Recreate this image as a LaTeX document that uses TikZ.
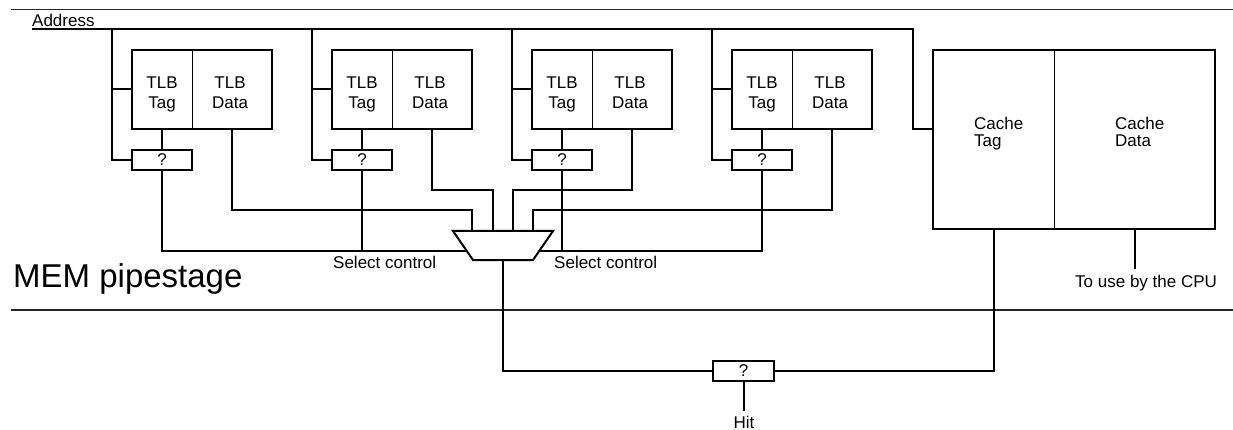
\documentclass[tikz,border=0pt]{standalone}
\usepackage{fontspec}
\setmainfont{Liberation Sans}
\usetikzlibrary{calc}

\tikzset{
  wire/.style={line width=2pt},
  divider/.style={line width=1.2pt},
  stageline/.style={line width=1.2pt,black!85},
  cell/.style={minimum height=79pt,inner sep=0pt},
  cmpbox/.style={draw,line width=2pt,minimum width=60pt,minimum height=20pt,inner sep=0pt},
  lbl/.style={inner sep=0pt},
}

\begin{document}
\begin{tikzpicture}[x=1pt,y=-1pt,font=\fontsize{17}{20}\selectfont]
\useasboundingbox (0,0) rectangle (1233,430);

% pipeline stage borders
\draw[stageline] (11,9.3) -- (1233,9.3);
\draw[stageline] (11,310) -- (1233,310);
\node[lbl,anchor=base west,font=\fontsize{33}{38}\selectfont] (stage) at (13,287) {MEM pipestage};

% address bus
\node[lbl,anchor=base west] (addrlbl) at (32,27) {Address};
\coordinate (addr) at (32,29.5);

% the four TLB ways
\foreach \i in {1,...,4} {
  \pgfmathsetmacro{\dx}{200*(\i-1)}
  \node[cell,minimum width=60pt] (tag\i) at (162+\dx,89.5) {};
  \node[cell,minimum width=80pt] (data\i) at (232+\dx,89.5) {};
  \draw[wire] (tag\i.north west) rectangle (data\i.south east);
  \draw[divider] (tag\i.north east) -- (tag\i.south east);
  \node[lbl,align=center,anchor=north] (tagtxt\i) at (162+\dx,76.7) {TLB\\Tag};
  \node[lbl,align=center,anchor=north] (datatxt\i) at (230+\dx,76.7) {TLB\\Data};
  \node[cmpbox] (cmp\i) at (162+\dx,160) {?};
  \coordinate (tap\i) at (112+\dx,29.5);
  \draw[wire] (tap\i) |- (cmp\i.west);
  \draw[wire] (tap\i |- tag\i.west) -- (tag\i.west);
  \draw[wire] (tag\i.south) -- (cmp\i.north);
}

% cache
\node[cell,minimum width=121pt,minimum height=179pt] (ctag) at (993.5,139.5) {};
\node[cell,minimum width=161pt,minimum height=179pt] (cdata) at (1134.5,139.5) {};
\draw[wire] (ctag.north west) rectangle (cdata.south east);
\draw[divider] (ctag.north east) -- (ctag.south east);
\node[lbl,align=left,anchor=north west,font=\fontsize{17}{16.5}\selectfont] (ctagtxt) at (974,117) {Cache\\Tag};
\node[lbl,align=left,anchor=north west,font=\fontsize{17}{16.5}\selectfont] (cdatatxt) at (1115,117) {Cache\\Data};

\draw[wire] (addr) -- (913,29.5) |- ($(ctag.north west)!0.44!(ctag.south west)$);

% way select mux
\coordinate (mtl) at (453,231);
\coordinate (mtr) at (553,231);
\coordinate (mbr) at (533,260);
\coordinate (mbl) at (473,260);
\draw[wire,line join=miter] (mtl) -- (mtr) -- (mbr) -- (mbl) -- cycle;
\coordinate (in1) at (472,231);
\coordinate (in2) at (493,231);
\coordinate (in3) at (513,231);
\coordinate (in4) at (533,231);
\coordinate (selL) at ($(mtl)!0.69!(mbl)$);
\coordinate (selR) at ($(mtr)!0.69!(mbr)$);
\coordinate (mout) at (503,260);

\draw[wire] (data1.south) |- (472,210) -- (in1);
\draw[wire] (data2.south) |- (493,190) -- (in2);
\draw[wire] (data3.south) |- (513,190) -- (in3);
\draw[wire] (data4.south) |- (533,210) -- (in4);

\draw[wire] (cmp1.south) |- (selL);
\draw[wire] (cmp2.south) -- (cmp2.south |- selL);
\draw[wire] (cmp4.south) |- (selR);
\draw[wire] (cmp3.south) -- (cmp3.south |- selR);
\node[lbl,anchor=base west] (selctlL) at (333,269) {Select control};
\node[lbl,anchor=base west] (selctlR) at (554,269) {Select control};

% hit check
\node[cmpbox,minimum width=61pt] (hit) at (743.5,371) {?};
\draw[wire] (mout) |- (hit.west);
\draw[wire] (ctag.south) |- (hit.east);
\draw[wire] (hit.south) -- ++(0,29);
\node[lbl,anchor=base] (hitlbl) at (744,428) {Hit};

\draw[wire] (cdata.south) -- ++(0,40);
\node[lbl,anchor=base west] (cpu) at (1075,287) {To use by the CPU};
\end{tikzpicture}
\end{document}
